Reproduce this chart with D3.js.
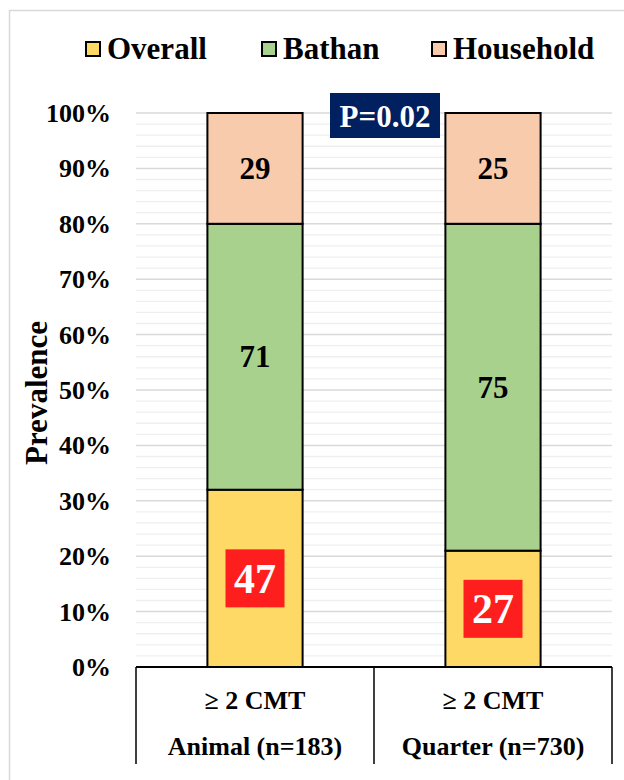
<!DOCTYPE html>
<html>
<head>
<meta charset="utf-8">
<script src="https://cdn.jsdelivr.net/npm/d3@7"></script>
<style>
  html, body { margin: 0; padding: 0; background: #fff; }
  svg { display: block; font-family: "Liberation Serif", "Times New Roman", serif; font-weight: bold; }
</style>
</head>
<body>
<svg id="chart" width="624" height="780"></svg>
<script>
// Categories and group label of the two-level x axis
const categories = ["Animal (n=183)", "Quarter (n=730)"];
const groupLabels = ["\u2265 2 CMT", "\u2265 2 CMT"];

// Stacked segment shares (% of bar height)
const seriesNames = ["Overall", "Bathan", "Household"];
const overallShare = [32, 21];
const bathanShare = [48, 59];
const householdShare = [20, 20];

// Values printed inside the segments
const overallLabel = [47, 27];
const bathanLabel = [71, 75];
const householdLabel = [29, 25];

// Y axis ticks
const yTicks = [0, 10, 20, 30, 40, 50, 60, 70, 80, 90, 100];
const pValueText = "P=0.02";

const colors = { Overall: "#FFD966", Bathan: "#A9D18E", Household: "#F8CBAD" };

const svg = d3.select("#chart");
const W = 624, H = 780;
const m = { left: 136, right: 12, top: 113, bottom: 113 };
const plotW = W - m.left - m.right;   // 476
const plotH = H - m.top - m.bottom;   // 554

// Outer chart frame
svg.append("rect")
  .attr("x", 9.5).attr("y", 10.5)
  .attr("width", W).attr("height", H)
  .attr("fill", "none").attr("stroke", "#d9d9d9").attr("stroke-width", 1.5);

const x = d3.scaleBand().domain(categories).range([m.left, m.left + plotW]).paddingInner(0).paddingOuter(0);
const y = d3.scaleLinear().domain([0, 100]).range([m.top + plotH, m.top]);
const barW = x.bandwidth() * 0.4;

// Minor gridlines (every 2%)
svg.append("g").selectAll("line")
  .data(d3.range(0, 101, 2).filter(v => v % 10 !== 0))
  .join("line")
  .attr("x1", m.left).attr("x2", m.left + plotW)
  .attr("y1", d => y(d)).attr("y2", d => y(d))
  .attr("stroke", "#efefef").attr("stroke-width", 1.3);

// Major gridlines
svg.append("g").selectAll("line")
  .data(yTicks.filter(v => v > 0))
  .join("line")
  .attr("x1", m.left).attr("x2", m.left + plotW)
  .attr("y1", d => y(d)).attr("y2", d => y(d))
  .attr("stroke", "#d9d9d9").attr("stroke-width", 1.5);

// Y axis labels
const yAxis = d3.axisLeft(y).tickValues(yTicks).tickFormat(d => d + "%").tickSize(0).tickPadding(25);
const yg = svg.append("g").attr("transform", `translate(${m.left},0)`).call(yAxis);
yg.select(".domain").remove();
yg.selectAll("text")
  .attr("font-family", "Liberation Serif, Times New Roman, serif")
  .attr("font-weight", "bold").attr("font-size", 26).attr("fill", "#000")
  .attr("dy", "0.33em");

// Y axis title
svg.append("text")
  .attr("transform", `translate(47,${y(50) + 3}) rotate(-90)`)
  .attr("text-anchor", "middle")
  .attr("font-size", 31).attr("fill", "#000")
  .text("Prevalence");

// Stacked bars
const rows = categories.map((c, i) => ({
  cat: c, Overall: overallShare[i], Bathan: bathanShare[i], Household: householdShare[i]
}));
const stacked = d3.stack().keys(seriesNames)(rows);

const barG = svg.append("g");
stacked.forEach(layer => {
  barG.append("g").selectAll("rect")
    .data(layer)
    .join("rect")
    .attr("x", d => x(d.data.cat) + (x.bandwidth() - barW) / 2)
    .attr("y", d => y(d[1]))
    .attr("width", barW)
    .attr("height", d => y(d[0]) - y(d[1]))
    .attr("fill", colors[layer.key])
    .attr("stroke", "#000").attr("stroke-width", 2);
});

// Segment value labels
const labelArrays = { Overall: overallLabel, Bathan: bathanLabel, Household: householdLabel };
stacked.forEach(layer => {
  layer.forEach((d, i) => {
    const cx = x(d.data.cat) + x.bandwidth() / 2;
    const cy = (y(d[0]) + y(d[1])) / 2;
    const val = labelArrays[layer.key][i];
    if (layer.key === "Overall") {
      svg.append("rect")
        .attr("x", cx - 29.5).attr("y", cy - 29)
        .attr("width", 59).attr("height", 58)
        .attr("fill", "#FF1E1E");
      svg.append("text")
        .attr("x", cx).attr("y", cy).attr("dy", "0.34em")
        .attr("text-anchor", "middle").attr("font-size", 42).attr("fill", "#fff")
        .text(val);
    } else {
      svg.append("text")
        .attr("x", cx).attr("y", cy).attr("dy", "0.34em")
        .attr("text-anchor", "middle").attr("font-size", 31).attr("fill", "#000")
        .text(val);
    }
  });
});

// X axis baseline and two-level category box
const y0 = y(0);
svg.append("line")
  .attr("x1", m.left).attr("x2", m.left + plotW)
  .attr("y1", y0).attr("y2", y0)
  .attr("stroke", "#000").attr("stroke-width", 2);
const sepX = [m.left, m.left + plotW / 2, m.left + plotW];
svg.append("g").selectAll("line")
  .data(sepX)
  .join("line")
  .attr("x1", d => d).attr("x2", d => d)
  .attr("y1", y0).attr("y2", y0 + 97)
  .attr("stroke", "#000").attr("stroke-width", 1.5);

categories.forEach((c, i) => {
  const cx = x(c) + x.bandwidth() / 2;
  svg.append("text")
    .attr("x", cx).attr("y", y0 + 33).attr("dy", "0.34em")
    .attr("text-anchor", "middle").attr("font-size", 26).attr("fill", "#000")
    .text(groupLabels[i]);
  svg.append("text")
    .attr("x", cx).attr("y", y0 + 79).attr("dy", "0.34em")
    .attr("text-anchor", "middle").attr("font-size", 26).attr("fill", "#000")
    .text(c);
});

// P-value badge
const pg = svg.append("g");
pg.append("rect")
  .attr("x", 330).attr("y", 93).attr("width", 110).attr("height", 45)
  .attr("fill", "#002060");
pg.append("text")
  .attr("x", 385).attr("y", 116).attr("dy", "0.34em")
  .attr("text-anchor", "middle").attr("font-size", 31).attr("fill", "#fff")
  .text(pValueText);

// Legend
const legendX = [86, 262, 432];
const lg = svg.append("g");
seriesNames.forEach((s, i) => {
  lg.append("rect")
    .attr("x", legendX[i]).attr("y", 42).attr("width", 14).attr("height", 14)
    .attr("fill", colors[s]).attr("stroke", "#000").attr("stroke-width", 2);
  lg.append("text")
    .attr("x", legendX[i] + 21).attr("y", 48).attr("dy", "0.34em")
    .attr("font-size", 31).attr("fill", "#000")
    .text(s);
});
</script>
</body>
</html>
